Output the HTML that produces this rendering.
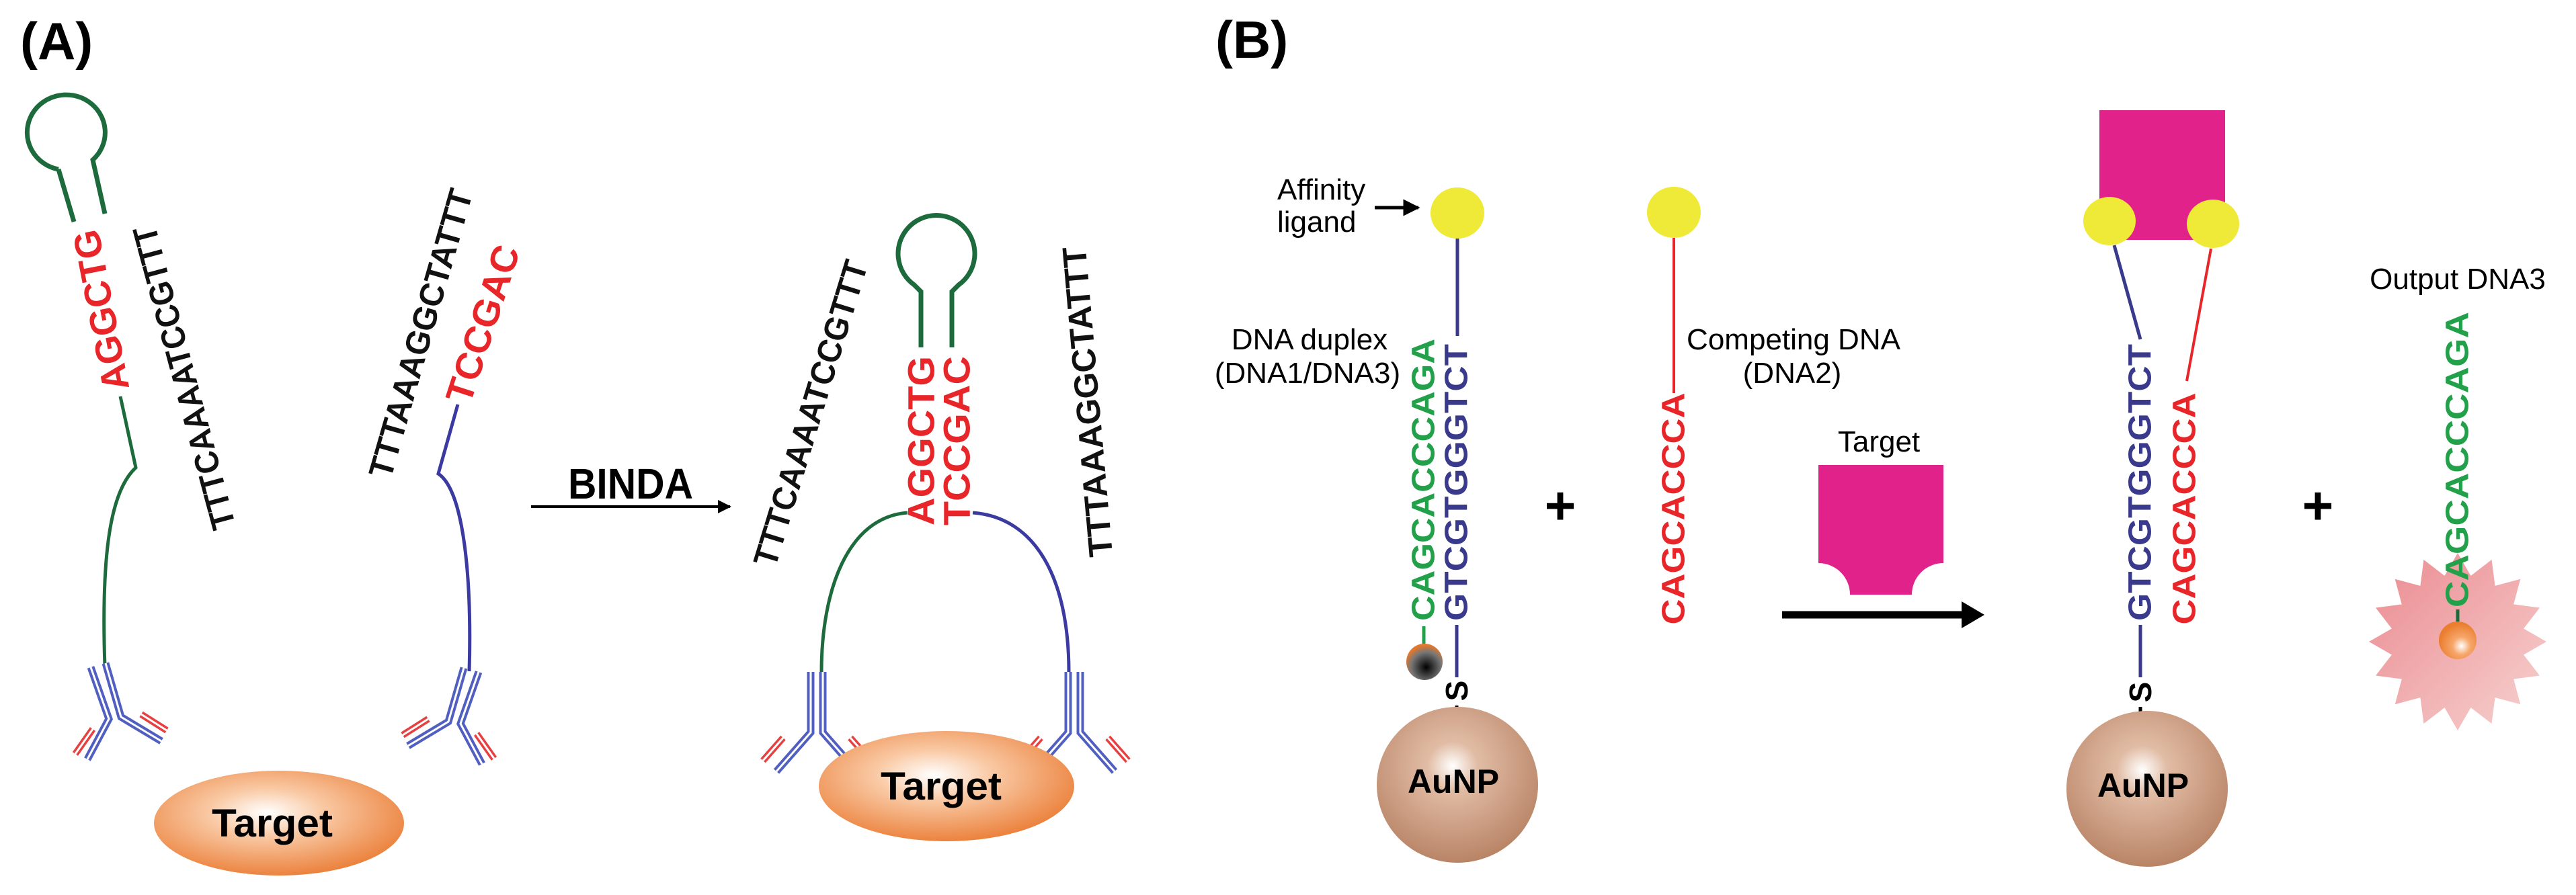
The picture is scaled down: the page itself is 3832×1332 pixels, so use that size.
<!DOCTYPE html>
<html><head><meta charset="utf-8"><style>
html,body{margin:0;padding:0;background:#fff;}
svg{display:block;}
.b{font-family:"Liberation Sans",Arial,sans-serif;font-weight:bold;}
.n{font-family:"Liberation Sans Narrow","Liberation Sans",Arial,sans-serif;}
</style></head><body>
<svg width="3832" height="1332" viewBox="0 0 3832 1332" xmlns="http://www.w3.org/2000/svg">
<defs>
<radialGradient id="tg" cx="0.45" cy="0.4" r="0.65">
<stop offset="0" stop-color="#ffffff"/><stop offset="0.35" stop-color="#f9c9a4"/><stop offset="1" stop-color="#ea7a32"/></radialGradient>
<radialGradient id="au" cx="0.47" cy="0.38" r="0.62">
<stop offset="0" stop-color="#ffffff"/><stop offset="0.25" stop-color="#e1bca5"/><stop offset="1" stop-color="#b98466"/></radialGradient>
<radialGradient id="ob" cx="0.6" cy="0.65" r="0.6">
<stop offset="0" stop-color="#ffffff"/><stop offset="0.4" stop-color="#f6a66a"/><stop offset="1" stop-color="#ea7d2e"/></radialGradient>
<radialGradient id="db" cx="0.55" cy="0.65" r="0.6">
<stop offset="0" stop-color="#000"/><stop offset="0.7" stop-color="#777"/><stop offset="1" stop-color="#e2772e"/></radialGradient>
<linearGradient id="st" x1="0" y1="0" x2="1" y2="1">
<stop offset="0" stop-color="#ea8a90"/><stop offset="1" stop-color="#f7d2d0"/></linearGradient>
<marker id="ah" viewBox="0 0 10 10" refX="9" refY="5" markerWidth="5" markerHeight="5" orient="auto"><path d="M0 0L10 5L0 10Z" fill="#000"/></marker>
<g id="abL">
<polyline points="-15,6 12,83 -20,143" fill="none" stroke="#5160c0" stroke-width="11"/>
<polyline points="-15,6 12,83 -20,143" fill="none" stroke="#fff" stroke-width="3"/>
<polyline points="7,0 30,80 90,116" fill="none" stroke="#5160c0" stroke-width="11"/>
<polyline points="7,0 30,80 90,116" fill="none" stroke="#fff" stroke-width="3"/>
<line x1="-38" y1="135" x2="-12" y2="98" stroke="#e84040" stroke-width="10"/>
<line x1="-38" y1="135" x2="-12" y2="98" stroke="#fff" stroke-width="3"/>
<line x1="60" y1="76" x2="98" y2="100" stroke="#e84040" stroke-width="10"/>
<line x1="60" y1="76" x2="98" y2="100" stroke="#fff" stroke-width="3"/>
</g>
<g id="abS">
<polyline points="-9,0 -9,90 -60,148" fill="none" stroke="#5160c0" stroke-width="11"/>
<polyline points="-9,0 -9,90 -60,148" fill="none" stroke="#fff" stroke-width="3"/>
<polyline points="9,0 9,90 60,148" fill="none" stroke="#5160c0" stroke-width="11"/>
<polyline points="9,0 9,90 60,148" fill="none" stroke="#fff" stroke-width="3"/>
<line x1="-80" y1="132" x2="-50" y2="98" stroke="#e84040" stroke-width="10"/>
<line x1="-80" y1="132" x2="-50" y2="98" stroke="#fff" stroke-width="3"/>
<line x1="80" y1="132" x2="50" y2="98" stroke="#e84040" stroke-width="10"/>
<line x1="80" y1="132" x2="50" y2="98" stroke="#fff" stroke-width="3"/>
</g>
</defs>

<!-- Panel A -->
<text x="30" y="88" class="b" font-size="78">(A)</text>

<!-- left hairpin -->
<path d="M87 252 A58 56 0 1 1 138 238 L156 318" fill="none" stroke="#1d6b3c" stroke-width="7"/>
<line x1="87" y1="252" x2="110" y2="330" stroke="#1d6b3c" stroke-width="7"/>
<text transform="translate(150,462) rotate(-101)" class="b" font-size="56" fill="#e8262a" text-anchor="middle" dominant-baseline="central" textLength="243" lengthAdjust="spacingAndGlyphs">AGGCTG</text>
<text transform="translate(274,562) rotate(-105)" class="b" font-size="50" fill="#111" text-anchor="middle" dominant-baseline="central" textLength="465" lengthAdjust="spacingAndGlyphs">TTTCAAAATCCGTTT</text>
<path d="M179 590 L202 696 C165 730 150 820 156 992" fill="none" stroke="#1d6b3c" stroke-width="5"/>
<use href="#abL" x="150" y="987"/>

<!-- second strand -->
<text transform="translate(626,496) rotate(-74)" class="b" font-size="50" fill="#111" text-anchor="middle" dominant-baseline="central" textLength="444" lengthAdjust="spacingAndGlyphs">TTTAAAGGCTATTT</text>
<text transform="translate(718,482) rotate(-72)" class="b" font-size="56" fill="#e8262a" text-anchor="middle" dominant-baseline="central" textLength="243" lengthAdjust="spacingAndGlyphs">TCCGAC</text>
<path d="M681 602 L652 705 C690 730 702 860 698 999" fill="none" stroke="#3a3aa0" stroke-width="5"/>
<g transform="translate(697,994) scale(-1,1)"><use href="#abL"/></g>

<ellipse cx="415" cy="1225" rx="186" ry="78" fill="url(#tg)"/>
<text x="405" y="1245" class="b" font-size="58" text-anchor="middle" textLength="180" lengthAdjust="spacingAndGlyphs">Target</text>

<!-- BINDA arrow -->
<text x="938" y="742" class="b" font-size="64" text-anchor="middle" textLength="186" lengthAdjust="spacingAndGlyphs">BINDA</text>
<line x1="790" y1="754" x2="1086" y2="754" stroke="#000" stroke-width="4" marker-end="url(#ah)"/>

<!-- right complex -->
<path d="M1370 517 L1370 434 L1360 424 A57 57 0 1 1 1426 424 L1416 434 L1416 517" fill="none" stroke="#1d6b3c" stroke-width="7"/>
<text transform="translate(1370,656) rotate(-90)" class="b" font-size="56" fill="#e8262a" text-anchor="middle" dominant-baseline="central" textLength="252" lengthAdjust="spacingAndGlyphs">AGGCTG</text>
<text transform="translate(1423,656) rotate(-90)" class="b" font-size="56" fill="#e8262a" text-anchor="middle" dominant-baseline="central" textLength="252" lengthAdjust="spacingAndGlyphs">TCCGAC</text>
<text transform="translate(1206,615) rotate(-73)" class="b" font-size="50" fill="#111" text-anchor="middle" dominant-baseline="central" textLength="473" lengthAdjust="spacingAndGlyphs">TTTCAAAATCCGTTT</text>
<text transform="translate(1618,598) rotate(-95)" class="b" font-size="50" fill="#111" text-anchor="middle" dominant-baseline="central" textLength="463" lengthAdjust="spacingAndGlyphs">TTTAAAGGCTATTT</text>
<path d="M1350 763 C1260 770 1222 880 1222 1000" fill="none" stroke="#1d6b3c" stroke-width="5"/>
<path d="M1447 763 C1540 770 1590 860 1590 1000" fill="none" stroke="#3a3aa0" stroke-width="5"/>
<use href="#abS" x="1215" y="1000"/>
<use href="#abS" x="1598" y="1000"/>
<ellipse cx="1408" cy="1170" rx="190" ry="82" fill="url(#tg)"/>
<text x="1400" y="1190" class="b" font-size="58" text-anchor="middle" textLength="180" lengthAdjust="spacingAndGlyphs">Target</text>

<!-- Panel B -->
<text x="1808" y="86" class="b" font-size="78">(B)</text>

<text x="1900" y="297" class="n" font-size="44">Affinity</text>
<text x="1900" y="345" class="n" font-size="44">ligand</text>
<line x1="2045" y1="309" x2="2110" y2="309" stroke="#000" stroke-width="5" marker-end="url(#ah)"/>
<ellipse cx="2168" cy="317" rx="40" ry="38" fill="#efe937"/>
<line x1="2168" y1="355" x2="2168" y2="500" stroke="#3a3a8c" stroke-width="5"/>
<text x="1948" y="520" class="n" font-size="44" text-anchor="middle">DNA duplex</text>
<text x="1945" y="570" class="n" font-size="44" text-anchor="middle">(DNA1/DNA3)</text>
<text transform="translate(2118,714) rotate(-90)" class="b" font-size="48" fill="#22a04a" text-anchor="middle" dominant-baseline="central" textLength="420" lengthAdjust="spacingAndGlyphs">CAGCACCCAGA</text>
<text transform="translate(2167,718) rotate(-90)" class="b" font-size="48" fill="#3a3a8c" text-anchor="middle" dominant-baseline="central" textLength="412" lengthAdjust="spacingAndGlyphs">GTCGTGGGTCT</text>
<line x1="2118" y1="932" x2="2118" y2="958" stroke="#22a04a" stroke-width="5"/>
<line x1="2167" y1="930" x2="2167" y2="1008" stroke="#3a3a8c" stroke-width="5"/>
<circle cx="2119" cy="985" r="27" fill="url(#db)"/>
<text transform="translate(2167,1028) rotate(-90)" class="b" font-size="46" text-anchor="middle" dominant-baseline="central">S</text>
<line x1="2167" y1="1050" x2="2167" y2="1090" stroke="#000" stroke-width="5"/>
<ellipse cx="2168" cy="1168" rx="120" ry="116" fill="url(#au)"/>
<text x="2162" y="1180" class="b" font-size="50" text-anchor="middle">AuNP</text>

<text x="2321" y="780" class="b" font-size="80" text-anchor="middle">+</text>

<ellipse cx="2490" cy="316" rx="40" ry="38" fill="#efe937"/>
<line x1="2490" y1="354" x2="2490" y2="585" stroke="#e8262a" stroke-width="4"/>
<text transform="translate(2490,757) rotate(-90)" class="b" font-size="48" fill="#e8262a" text-anchor="middle" dominant-baseline="central" textLength="345" lengthAdjust="spacingAndGlyphs">CAGCACCCA</text>
<text x="2668" y="520" class="n" font-size="44" text-anchor="middle">Competing DNA</text>
<text x="2666" y="570" class="n" font-size="44" text-anchor="middle">(DNA2)</text>

<text x="2795" y="672" class="n" font-size="44" text-anchor="middle">Target</text>
<path d="M2705 692 H2891 V838 A47 47 0 0 0 2844 885 H2752 A47 47 0 0 0 2705 838 Z" fill="#e0228a"/>
<line x1="2651" y1="915" x2="2925" y2="915" stroke="#000" stroke-width="11"/>
<path d="M2918 895 L2952 915 L2918 935 Z" fill="#000"/>

<!-- right B complex -->
<rect x="3123" y="164" width="187" height="193" fill="#e0228a"/>
<ellipse cx="3138" cy="329" rx="39" ry="36" fill="#efe937"/>
<ellipse cx="3292" cy="333" rx="39" ry="36" fill="#efe937"/>
<line x1="3145" y1="365" x2="3184" y2="505" stroke="#3a3a8c" stroke-width="5"/>
<line x1="3289" y1="370" x2="3253" y2="567" stroke="#e8262a" stroke-width="4"/>
<text transform="translate(3184,718) rotate(-90)" class="b" font-size="48" fill="#3a3a8c" text-anchor="middle" dominant-baseline="central" textLength="412" lengthAdjust="spacingAndGlyphs">GTCGTGGGTCT</text>
<text transform="translate(3250,757) rotate(-90)" class="b" font-size="48" fill="#e8262a" text-anchor="middle" dominant-baseline="central" textLength="345" lengthAdjust="spacingAndGlyphs">CAGCACCCA</text>
<line x1="3184" y1="930" x2="3184" y2="1008" stroke="#3a3a8c" stroke-width="5"/>
<text transform="translate(3184,1030) rotate(-90)" class="b" font-size="46" text-anchor="middle" dominant-baseline="central">S</text>
<line x1="3184" y1="1052" x2="3184" y2="1092" stroke="#000" stroke-width="5"/>
<ellipse cx="3194" cy="1174" rx="120" ry="116" fill="url(#au)"/>
<text x="3188" y="1186" class="b" font-size="50" text-anchor="middle">AuNP</text>

<text x="3448" y="780" class="b" font-size="80" text-anchor="middle">+</text>

<text x="3656" y="430" class="n" font-size="44" text-anchor="middle">Output DNA3</text>
<polygon points="3656,823 3675.5,856.9 3706.5,833 3711.6,871.9 3749.3,861.7 3739.2,899.4 3778,904.5 3754.1,935.5 3788,955 3754.1,974.5 3778,1005.5 3739.2,1010.6 3749.3,1048.3 3711.6,1038.1 3706.5,1077 3675.5,1053.1 3656,1087 3636.5,1053.1 3605.5,1077 3600.4,1038.1 3562.7,1048.3 3572.8,1010.6 3534,1005.5 3557.9,974.5 3524,955 3557.9,935.5 3534,904.5 3572.8,899.4 3562.7,861.7 3600.4,871.9 3605.5,833 3636.5,856.9" fill="url(#st)"/>
<text transform="translate(3656,684) rotate(-90)" class="b" font-size="48" fill="#22a04a" text-anchor="middle" dominant-baseline="central" textLength="440" lengthAdjust="spacingAndGlyphs">CAGCACCCAGA</text>
<line x1="3656" y1="907" x2="3656" y2="928" stroke="#1d6b3c" stroke-width="5"/>
<circle cx="3656" cy="953" r="28" fill="url(#ob)"/>
</svg>
</body></html>
